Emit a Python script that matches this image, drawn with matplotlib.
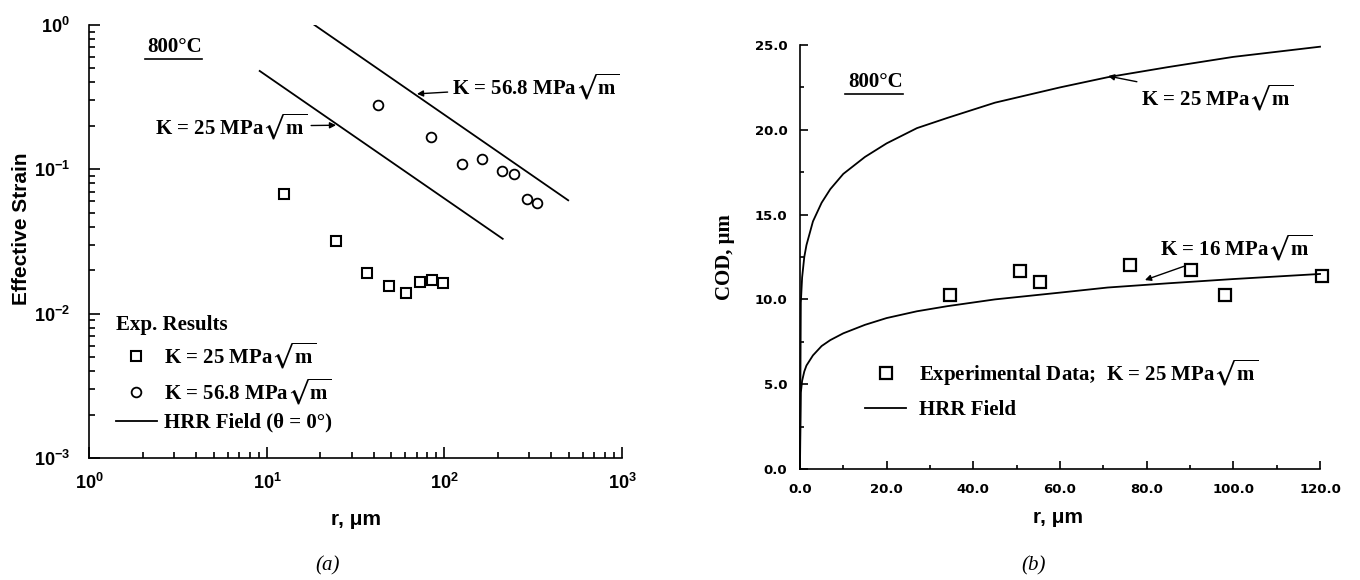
import numpy as np
import matplotlib.pyplot as plt
from matplotlib.lines import Line2D
from matplotlib.ticker import LogLocator, MultipleLocator, FormatStrFormatter, NullFormatter

plt.rcParams['font.family'] = 'Liberation Sans'
plt.rcParams['font.weight'] = 'bold'
plt.rcParams['axes.labelweight'] = 'bold'
plt.rcParams['mathtext.fontset'] = 'stix'

# (a) effective strain ahead of the crack tip, 800 C
r_exp_k25 = [12.5, 24.6, 36.5, 48.4, 60.7, 72.8, 85.3, 98.1]
strain_exp_k25 = [0.0678, 0.0318, 0.0190, 0.0156, 0.0138, 0.0165, 0.0171, 0.0163]
r_exp_k568 = [42.3, 83.8, 125, 163, 211, 247, 293, 331]
strain_exp_k568 = [0.278, 0.168, 0.108, 0.117, 0.097, 0.093, 0.062, 0.0588]
# HRR field lines (straight on log-log), end points
r_hrr_k25 = [9.1, 213]
strain_hrr_k25 = [0.48, 0.033]
r_hrr_k568 = [18.5, 498]
strain_hrr_k568 = [1.0, 0.061]

# (b) crack opening displacement
r_cod_exp = [34.6, 50.7, 55.4, 76.1, 90.3, 98.1, 120.5]
cod_exp = [10.24, 11.69, 11.04, 12.03, 11.73, 10.26, 11.38]
r_cod_hrr = [0, 0.2, 0.5, 1, 1.5, 3, 5, 7, 10, 15, 20, 27, 34, 45, 60, 71, 85, 100, 120]
cod_hrr_k25 = [0, 9.8, 11.3, 12.5, 13.2, 14.6, 15.7, 16.5, 17.4, 18.4, 19.2, 20.1,
               20.7, 21.6, 22.5, 23.1, 23.7, 24.3, 24.9]
cod_hrr_k16 = [0, 4.5, 5.2, 5.75, 6.1, 6.7, 7.25, 7.6, 8.0, 8.5, 8.9, 9.3,
               9.6, 10.0, 10.4, 10.7, 10.95, 11.2, 11.5]

serif = dict(family='Liberation Serif', weight='bold', size=15)
sq = r'MPa$\sqrt{\mathdefault{m}}$'


def underline(fig, txt):
    fig.canvas.draw()
    bb = txt.get_window_extent()
    inv = fig.transFigure.inverted()
    (x0, y0), (x1, _) = inv.transform([(bb.x0 - 3, bb.y0 - 2), (bb.x1, bb.y0)])
    fig.add_artist(Line2D([x0, x1], [y0, y0], transform=fig.transFigure,
                          color='black', lw=1.2))


fig = plt.figure(figsize=(13.6, 5.8), dpi=100)

# ---------------- panel (a)
ax1 = fig.add_axes([0.0658, 0.2103, 0.3915, 0.7467])
ax1.set_xscale('log')
ax1.set_yscale('log')
ax1.set_xlim(1, 1000)
ax1.set_ylim(1e-3, 1)

ax1.plot(r_hrr_k25, strain_hrr_k25, color='black', lw=1.3)
ax1.plot(r_hrr_k568, strain_hrr_k568, color='black', lw=1.3)
ax1.plot(r_exp_k25, strain_exp_k25, ls='none', marker='s', ms=7, mfc='none',
         mec='black', mew=1.5, label='K = 25 ' + sq)
ax1.plot(r_exp_k568, strain_exp_k568, ls='none', marker='o', ms=7, mfc='none',
         mec='black', mew=1.3, label='K = 56.8 ' + sq)
ax1.plot([], [], color='black', lw=1.3, label='HRR Field (θ = 0°)')

for s in ['top', 'right']:
    ax1.spines[s].set_visible(False)
for s in ['left', 'bottom']:
    ax1.spines[s].set_linewidth(1.2)
ax1.xaxis.set_major_locator(LogLocator(base=10, numticks=10))
ax1.xaxis.set_minor_locator(LogLocator(base=10, subs=np.arange(2, 10), numticks=10))
ax1.yaxis.set_major_locator(LogLocator(base=10, numticks=10))
ax1.yaxis.set_minor_locator(LogLocator(base=10, subs=np.arange(2, 10), numticks=10))
ax1.xaxis.set_minor_formatter(NullFormatter())
ax1.yaxis.set_minor_formatter(NullFormatter())
ax1.tick_params(which='both', direction='in', top=False, right=False, width=1.2)
ax1.tick_params(which='major', length=8, labelsize=13)
ax1.tick_params(which='minor', length=4)
ax1.tick_params(axis='y', pad=14)
ax1.tick_params(axis='x', pad=11)

ax1.set_ylabel('Effective Strain', fontsize=15)
ax1.yaxis.set_label_coords(-0.11, 0.53)
ax1.set_xlabel('r, μm', fontsize=15)
ax1.xaxis.set_label_coords(0.5, -0.12)

t1 = ax1.text(3.03, 0.70, '800°C', ha='center', va='center', fontdict=serif)
ax1.annotate('K = 56.8 ' + sq, xy=(70, 0.333), xytext=(110, 0.372),
             ha='left', va='center', **serif,
             arrowprops=dict(arrowstyle='-|>', color='black', lw=1.0,
                             mutation_scale=9, shrinkA=1, shrinkB=0))
ax1.annotate('K = 25 ' + sq, xy=(24.5, 0.202), xytext=(16.8, 0.198),
             ha='right', va='center', **serif,
             arrowprops=dict(arrowstyle='-|>', color='black', lw=1.0,
                             mutation_scale=9, shrinkA=1, shrinkB=0))

ax1.legend(title='Exp. Results', loc='lower left', bbox_to_anchor=(0.05, 0.058),
           frameon=False, prop=serif, title_fontproperties=serif,
           handlelength=1.95, handletextpad=0.35, labelspacing=0.28,
           borderpad=0, borderaxespad=0, alignment='left')

# ---------------- panel (b)
ax2 = fig.add_axes([0.5882, 0.1914, 0.3824, 0.731])
ax2.set_xlim(0, 120)
ax2.set_ylim(0, 25)

ax2.plot(r_cod_hrr, cod_hrr_k25, color='black', lw=1.3, clip_on=False)
ax2.plot(r_cod_hrr, cod_hrr_k16, color='black', lw=1.3, clip_on=False, label='HRR Field')
ax2.plot(r_cod_exp, cod_exp, ls='none', marker='s', ms=8.5, mfc='none', mec='black',
         mew=1.6, clip_on=False, label='Experimental Data;  K = 25 ' + sq)

for s in ['top', 'right']:
    ax2.spines[s].set_visible(False)
for s in ['left', 'bottom']:
    ax2.spines[s].set_linewidth(1.2)
ax2.xaxis.set_major_locator(MultipleLocator(20))
ax2.xaxis.set_minor_locator(MultipleLocator(10))
ax2.yaxis.set_major_locator(MultipleLocator(5))
ax2.yaxis.set_minor_locator(MultipleLocator(2.5))
ax2.xaxis.set_major_formatter(FormatStrFormatter('%.1f'))
ax2.yaxis.set_major_formatter(FormatStrFormatter('%.1f'))
ax2.tick_params(which='both', direction='in', top=False, right=False, width=1.2,
                labelsize=9.5, labelfontfamily='DejaVu Sans')
ax2.tick_params(which='major', length=6)
ax2.tick_params(which='minor', length=3)
ax2.tick_params(axis='y', pad=9)
ax2.tick_params(axis='x', pad=10)

ax2.set_ylabel('COD, μm', fontdict=serif)
ax2.yaxis.set_label_coords(-0.125, 0.5)
ax2.set_xlabel('r, μm', fontsize=15)
ax2.xaxis.set_label_coords(0.496, -0.092)

t2 = ax2.text(17.4, 22.8, '800°C', ha='center', va='center', fontdict=serif)
ax2.annotate('K = 25 ' + sq, xy=(71.1, 23.17), xytext=(78.7, 21.9),
             ha='left', va='center', **serif,
             arrowprops=dict(arrowstyle='-|>', color='black', lw=1.0,
                             mutation_scale=9, shrinkA=1, shrinkB=0))
ax2.annotate('K = 16 ' + sq, xy=(79.6, 11.14), xytext=(83.0, 13.03),
             ha='left', va='center', **serif,
             arrowprops=dict(arrowstyle='-|>', color='black', lw=1.0,
                             mutation_scale=9, shrinkA=1, shrinkB=0))

h, l = ax2.get_legend_handles_labels()
ax2.legend(h[::-1], l[::-1], loc='lower left', bbox_to_anchor=(0.126, 0.115),
           frameon=False, prop=serif, handlelength=1.95, handletextpad=0.6,
           labelspacing=0.6, borderpad=0, borderaxespad=0)

fig.text(328 / 1360, 1 - 566 / 580, '(a)', ha='center', va='center',
         family='Liberation Serif', style='italic', weight='normal', size=15)
fig.text(1034 / 1360, 1 - 566 / 580, '(b)', ha='center', va='center',
         family='Liberation Serif', style='italic', weight='normal', size=15)

underline(fig, t1)
underline(fig, t2)

fig.savefig('out.png', dpi=100)
